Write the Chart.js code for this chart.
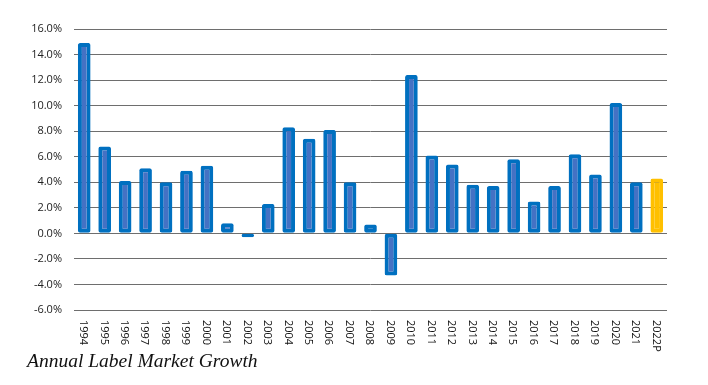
<!DOCTYPE html>
<html>
<head>
<meta charset="utf-8">
<script src="https://cdn.jsdelivr.net/npm/chart.js@4/dist/chart.umd.min.js"></script>
<style>
  html, body { margin: 0; padding: 0; background: #fff; }
  #wrap { width: 708px; height: 385px; position: relative; }
</style>
</head>
<body>
<div id="wrap"><canvas id="c" width="708" height="385"></canvas></div>
<script>
const categories = ['1994','1995','1996','1997','1998','1999','2000','2001','2002','2003','2004','2005','2006','2007','2008','2009','2010','2011','2012','2013','2014','2015','2016','2017','2018','2019','2020','2021','2022P'];
const growth = [14.9, 6.8, 4.1, 5.1, 4.0, 4.9, 5.3, 0.8, -0.3, 2.3, 8.3, 7.4, 8.1, 4.0, 0.7, -3.3, 12.4, 6.1, 5.4, 3.8, 3.7, 5.8, 2.5, 3.7, 6.2, 4.6, 10.2, 4.0, 4.3];
const yTicks = [-6, -4, -2, 0, 2, 4, 6, 8, 10, 12, 14, 16];
const chartTitle = 'Annual Label Market Growth';

const BLUE_FILL = '#4472C4';
const BLUE_EDGE = '#0070C0';
const GOLD = '#FFC000';
const fills = categories.map(c => c.endsWith('P') ? GOLD : BLUE_FILL);
const edges = categories.map(c => c.endsWith('P') ? GOLD : BLUE_EDGE);

const labelPlugin = {
  id: 'labelPlugin',
  afterDraw(chart) {
    const ctx = chart.ctx;
    const xs = chart.scales.x;
    ctx.save();
    ctx.fillStyle = '#111';
    ctx.font = '11px "Open Sans"';
    ctx.textAlign = 'left';
    ctx.textBaseline = 'middle';
    categories.forEach((lab, i) => {
      const x = xs.getPixelForValue(i) - 1;
      ctx.save();
      ctx.translate(x, 320);
      ctx.rotate(Math.PI / 2);
      ctx.fillText(lab, 0, 0);
      ctx.restore();
    });
    ctx.font = 'italic 19.5px "Liberation Serif"';
    ctx.fillStyle = '#111';
    ctx.textBaseline = 'alphabetic';
    ctx.fillText(chartTitle, 27, 367);
    ctx.restore();
  }
};

new Chart(document.getElementById('c'), {
  type: 'bar',
  data: {
    labels: categories,
    datasets: [{
      data: growth,
      backgroundColor: fills,
      borderColor: edges,
      borderWidth: 4,
      borderRadius: 2,
      borderSkipped: false,
      barPercentage: 0.62,
      categoryPercentage: 1.0
    }]
  },
  options: {
    responsive: false,
    animation: false,
    devicePixelRatio: 1,
    layout: { padding: { top: 29, right: 41, bottom: 75, left: 0 } },
    plugins: { legend: { display: false }, tooltip: { enabled: false }, title: { display: false } },
    scales: {
      x: {
        afterFit(scale) { scale.height = 0; },
        ticks: { display: false },
        grid: { display: false },
        border: { display: false }
      },
      y: {
        min: -6, max: 16,
        afterFit(scale) { scale.width = 74; },
        afterBuildTicks(scale) { scale.ticks = yTicks.map(v => ({ value: v })); },
        ticks: {
          padding: 12,
          color: '#222',
          font: { family: 'Open Sans', size: 11 },
          callback: v => v.toFixed(1) + '%'
        },
        grid: { color: '#6e6e6e', lineWidth: 1, drawTicks: false },
        border: { display: false }
      }
    }
  },
  plugins: [labelPlugin]
});
</script>
</body>
</html>
